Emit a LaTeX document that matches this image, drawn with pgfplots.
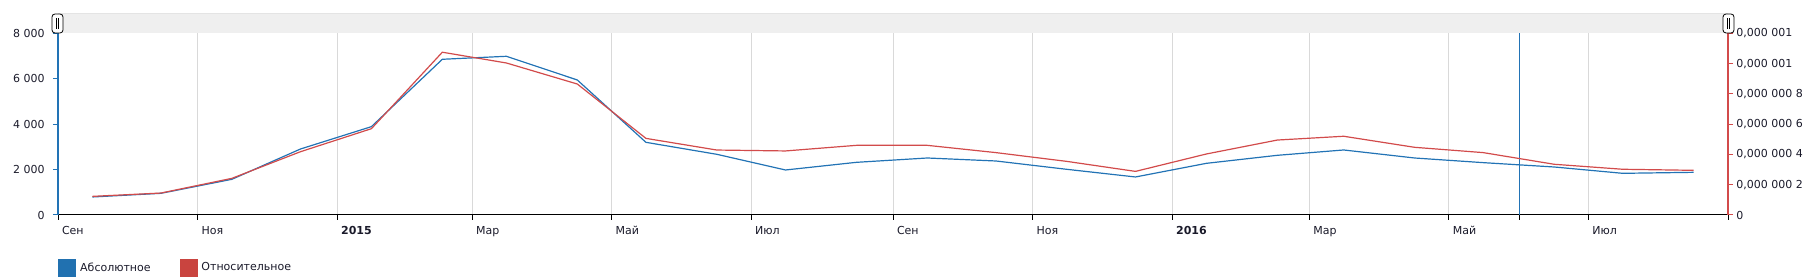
\documentclass[border=0pt]{standalone}
\usepackage{fontspec}
\setmainfont{DejaVu Sans}
\usepackage{pgfplots}
\pgfplotsset{compat=1.18}
\definecolor{cblue}{HTML}{2273B5}
\definecolor{cred}{HTML}{D24B4B}
\definecolor{lblue}{HTML}{2171B0}
\definecolor{lred}{HTML}{C9443F}
\definecolor{gridc}{HTML}{D9D9D9}
\definecolor{band}{HTML}{EFEFEF}
\definecolor{lbl}{HTML}{1A1A2A}
\begin{document}
\fontsize{5.5pt}{6.6pt}\selectfont
\begin{tikzpicture}
\useasboundingbox (0,0) rectangle (908.5pt,139pt);
\fill[band] (29pt,122.35pt) rectangle (864pt,132.5pt);
\draw[gridc!70, line width=0.3pt] (29pt,132.5pt) -- (864pt,132.5pt);
\begin{axis}[
  at={(29pt,31.5pt)}, anchor=south west,
  scale only axis, width=835pt, height=90.85pt,
  xmin=0, xmax=730, ymin=0, ymax=8000,
  axis x line*=bottom, axis y line*=left,
  x axis line style={draw=black, line width=0.5pt},
  y axis line style={draw=cblue, line width=0.6pt},
  tick align=outside, major tick length=2.5pt,
  xtick={0,61,122,181,242,303,365,426,487,547,608,639,669,730},
  xticklabels={Сен,Ноя,\textbf{2015},Мар,Май,Июл,Сен,Ноя,\textbf{2016},Мар,Май,,Июл,},
  xtick style={draw=black, line width=0.5pt},
  ytick={0,2000,4000,6000,8000},
  yticklabels={0,2 000,4 000,6 000,8 000},
  scaled y ticks=false,
  ytick style={draw=cblue, line width=0.5pt},
  xmajorgrids, x grid style={gridc, line width=0.5pt},
  xticklabel style={anchor=north west, inner sep=0pt, xshift=1.8pt, yshift=-3pt, text=lbl},
  yticklabel style={anchor=east, inner sep=0pt, xshift=-4pt, text=lbl},
]
\addplot[cblue, line width=0.6pt] coordinates {
(15,793) (45,954) (76,1571) (106,2906) (137,3890) (168,6856) (196,6988) (227,5945)
(257,3200) (288,2672) (318,1982) (349,2319) (380,2510) (410,2378) (441,2011) (471,1674)
(502,2275) (533,2628) (562,2863) (593,2510) (623,2305) (654,2114) (684,1835) (715,1879)};
\addplot[cblue, line width=0.6pt] coordinates {(639,0) (639,8000)};
\end{axis}
\begin{axis}[
  at={(29pt,31.5pt)}, anchor=south west,
  scale only axis, width=835pt, height=90.85pt,
  xmin=0, xmax=730, ymin=0, ymax=1.2e-6,
  axis x line=none, axis y line*=right,
  y axis line style={draw=cred, line width=0.6pt},
  tick align=outside, major tick length=2.5pt,
  scaled y ticks=false,
  ytick={0,2e-7,4e-7,6e-7,8e-7,1e-6,1.2e-6},
  yticklabels={0,{0,000 000 2},{0,000 000 4},{0,000 000 6},{0,000 000 8},{0,000 001},{0,000 001}},
  ytick style={draw=cred, line width=0.5pt},
  yticklabel style={anchor=west, inner sep=0pt, xshift=1.5pt, text=lbl},
  legend columns=2,
  legend style={draw=none, fill=none, at={(0,-0.29)}, anchor=west,
    inner sep=0pt, nodes={inner xsep=2pt, inner ysep=0pt, text=lbl},
    /tikz/every even column/.append style={column sep=12.5pt}},
]
\addplot[cred, line width=0.6pt, forget plot] coordinates {
(15,1.23e-7) (45,1.45e-7) (76,2.42e-7) (106,4.18e-7) (137,5.70e-7) (168,10.75e-7) (196,10.04e-7) (227,8.65e-7)
(257,5.06e-7) (288,4.29e-7) (318,4.23e-7) (349,4.60e-7) (380,4.60e-7) (410,4.12e-7) (441,3.54e-7) (471,2.88e-7)
(502,4.03e-7) (533,4.95e-7) (562,5.20e-7) (593,4.47e-7) (623,4.12e-7) (654,3.35e-7) (684,3.02e-7) (715,2.95e-7)};
\addlegendimage{legend image code/.code={\fill[lblue] (0pt,-4.25pt) rectangle (8.5pt,4.25pt);}}
\addlegendentry{Абсолютное}
\addlegendimage{legend image code/.code={\fill[lred] (0pt,-4.25pt) rectangle (8.5pt,4.25pt);}}
\addlegendentry{Относительное}
\end{axis}
\draw[black, line width=0.4pt, fill=white, rounded corners=1.5pt] (26pt,122.5pt) rectangle (31.5pt,132pt);
\draw[black, line width=0.3pt] (28.2pt,124.5pt) -- (28.2pt,130pt) (29.3pt,124.5pt) -- (29.3pt,130pt);
\draw[black, line width=0.4pt, fill=white, rounded corners=1.5pt] (861.5pt,122.5pt) rectangle (867pt,132pt);
\draw[black, line width=0.3pt] (863.7pt,124.5pt) -- (863.7pt,130pt) (864.8pt,124.5pt) -- (864.8pt,130pt);
\end{tikzpicture}
\end{document}
